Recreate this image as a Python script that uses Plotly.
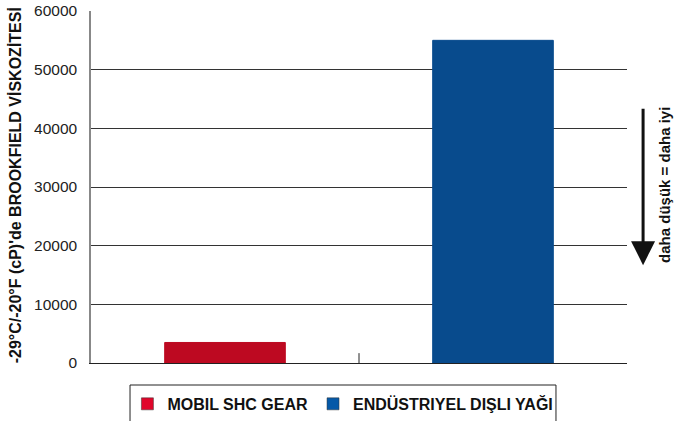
import plotly.graph_objects as go

categories = ["MOBIL SHC GEAR", "ENDÜSTRIYEL DIŞLI YAĞI"]
values = [3500, 55000]
bar_colors = ["#bd0921", "#084b8d"]
legend_colors = ["#e0062a", "#0559a8"]
y_ticks = [0, 10000, 20000, 30000, 40000, 50000, 60000]

FONT = "Liberation Sans, Arial, sans-serif"

fig = go.Figure()
for i, (cat, val, col, lcol) in enumerate(zip(categories, values, bar_colors, legend_colors)):
    fig.add_trace(go.Bar(
        x=[i], y=[val], name=cat, width=0.45,
        marker=dict(color=col, line=dict(color=col, width=1)),
        showlegend=False,
    ))
    # legend entry (brighter swatch as in the reference)
    fig.add_trace(go.Bar(
        x=[None], y=[None], name=cat,
        marker=dict(color=lcol, line=dict(color="#333333", width=0.5)),
        showlegend=True,
    ))

fig.update_layout(
    width=693, height=421,
    margin=dict(l=91, r=66, t=11, b=58, autoexpand=False),
    paper_bgcolor="white", plot_bgcolor="white",
    font=dict(family=FONT, color="#222222"),
    showlegend=True,
    legend=dict(
        orientation="h", x=0.47, xanchor="center", y=-0.068, yanchor="top",
        borderwidth=0, bgcolor="rgba(0,0,0,0)",
        font=dict(family=FONT, size=16, color="#111111", weight="bold"),
        itemwidth=30, tracegroupgap=0,
    ),
    xaxis=dict(
        range=[-0.5, 1.5], showticklabels=False, showgrid=False,
        zeroline=False, showline=True, linecolor="#222222", linewidth=1,
        ticks="", fixedrange=True, automargin=False,
    ),
    yaxis=dict(
        range=[0, 60000], tickvals=y_ticks, ticktext=[str(v) for v in y_ticks],
        showgrid=True, gridcolor="#333333", gridwidth=1,
        zeroline=False, showline=True, linecolor="#888888", linewidth=1.5,
        ticks="", ticklabelstandoff=9,
        tickfont=dict(family=FONT, size=15.5, color="#222222"),
        automargin=False,
    ),
    bargap=0.55,
)

# y-axis title
fig.add_annotation(xref="paper", yref="paper", x=-0.141, y=0.506,
                   text="-29°C/-20°F (cP)'de BROOKFIELD VİSKOZİTESİ", textangle=-90,
                   showarrow=False, xanchor="center", yanchor="middle",
                   font=dict(family=FONT, size=16, color="#111111", weight="bold"))

# legend frame
fig.add_shape(type="rect", xref="paper", yref="paper", x0=0.0728, x1=0.8675,
              y0=-0.25, y1=-0.0625, line=dict(color="#222222", width=1), layer="below")

# middle category tick
fig.add_shape(type="line", xref="x", yref="paper", x0=0.5, x1=0.5, y0=0, y1=0.028,
              line=dict(color="#222222", width=1))

# "lower is better" arrow and label
fig.add_annotation(xref="paper", yref="paper", x=1.03, y=0.278,
                   ax=0, ay=-158, showarrow=True, arrowhead=2, arrowsize=1.6,
                   arrowwidth=3, arrowcolor="#111111", text="")
fig.add_annotation(xref="paper", yref="paper", x=1.071, y=0.506,
                   text="daha düşük = daha iyi", textangle=-90, showarrow=False,
                   xanchor="center", yanchor="middle",
                   font=dict(family=FONT, size=15, color="#111111", weight="bold"))

fig.write_html("out.html", config={"displayModeBar": False},
               post_script="document.body.style.margin='0px';")
